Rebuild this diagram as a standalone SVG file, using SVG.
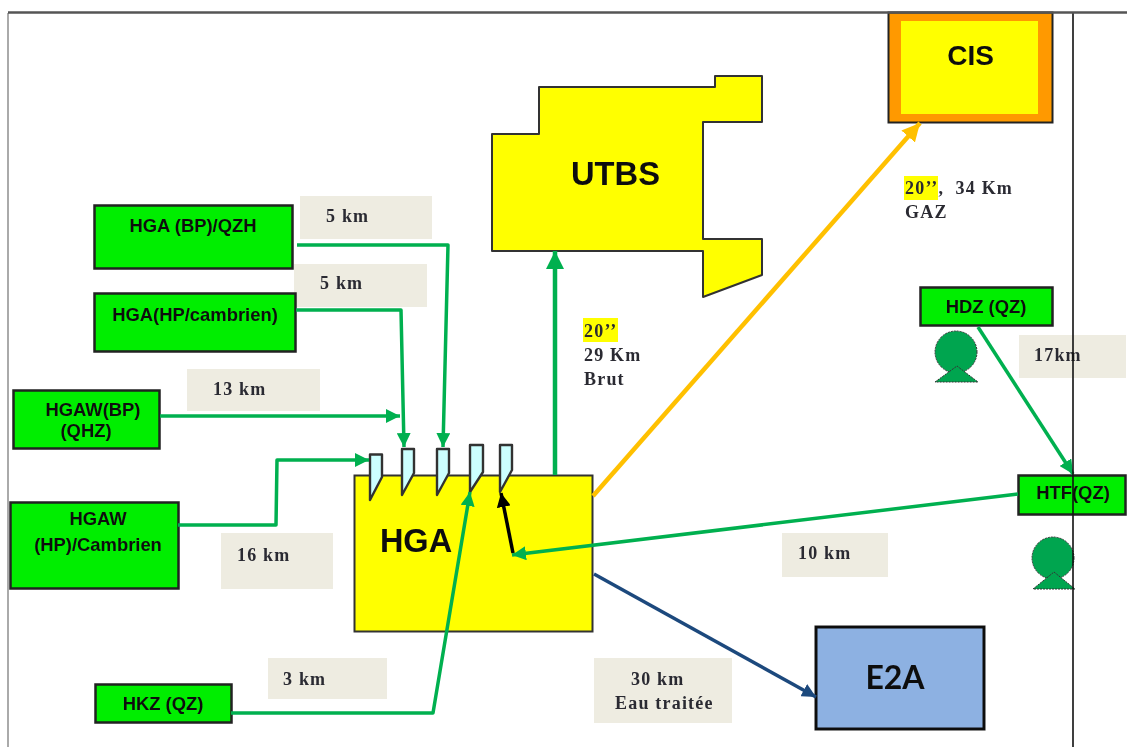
<svg xmlns="http://www.w3.org/2000/svg" width="1127" height="747" viewBox="0 0 1127 747">
<style>
.s{fill:#00ee00;stroke:#222;stroke-width:2.5}
.n{font-family:"Liberation Sans",Arial,sans-serif;font-weight:700;font-size:18.4px;fill:#111;text-anchor:middle}
.b{font-family:"Liberation Sans",Arial,sans-serif;font-weight:700;fill:#111;text-anchor:middle}
.k{font-family:"Liberation Serif","Times New Roman",serif;font-weight:700;font-size:18px;letter-spacing:1.2px;fill:#2b2b33}
.l{fill:#eeece1}
.c{fill:none;stroke-width:3.5;stroke-linejoin:round}
.g{stroke:#00b050;marker-end:url(#ag)}
.v{fill:#ccffff;stroke:#333;stroke-width:2.4;stroke-linejoin:round}
.p{fill:#00a550;stroke:#333;stroke-width:1;stroke-dasharray:2 1}
.y{fill:#ffff00}
</style>
<defs>
<marker id="ag" markerUnits="userSpaceOnUse" markerWidth="16" markerHeight="14" refX="14" refY="7" orient="auto"><path d="M0 0L14 7L0 14z" fill="#00b050"/></marker>
<marker id="agb" markerUnits="userSpaceOnUse" markerWidth="20" markerHeight="20" refX="18" refY="10" orient="auto"><path d="M0 1L18 10L0 19z" fill="#00b050"/></marker>
<marker id="ao" markerUnits="userSpaceOnUse" markerWidth="20" markerHeight="20" refX="18" refY="10" orient="auto"><path d="M0 1L18 10L0 19z" fill="#ffc000"/></marker>
<marker id="ab" markerUnits="userSpaceOnUse" markerWidth="16" markerHeight="14" refX="14" refY="7" orient="auto"><path d="M0 0L14 7L0 14z" fill="#1f497d"/></marker>
<marker id="ak" markerUnits="userSpaceOnUse" markerWidth="16" markerHeight="14" refX="14" refY="7" orient="auto"><path d="M0 0L14 7L0 14z" fill="#000"/></marker>
<filter id="soft" x="0" y="0" width="100%" height="100%" filterUnits="userSpaceOnUse"><feGaussianBlur stdDeviation="0.45"/></filter>
</defs>
<rect width="1127" height="747" fill="#fff"/>
<g filter="url(#soft)">
<g id="frame">
<path d="M8 13V747" stroke="#aaa" stroke-width="2" fill="none"/>
</g>
<g id="labels-bg">
<rect class="l" x="300" y="196" width="132" height="43"/>
<rect class="l" x="294" y="264" width="133" height="43"/>
<rect class="l" x="187" y="369" width="133" height="42"/>
<rect class="l" x="221" y="533" width="112" height="56"/>
<rect class="l" x="268" y="658" width="119" height="41"/>
<rect class="l" x="594" y="658" width="138" height="65"/>
<rect class="l" x="782" y="533" width="106" height="44"/>
<rect class="l" x="1019" y="335" width="107" height="43"/>
</g>
<g id="node-hga-bp"><rect class="s" x="94.500" y="205.500" width="198" height="63"/><text class="n" x="193" y="232">HGA (BP)/QZH</text></g>
<g id="node-hga-hp"><rect class="s" x="94.500" y="293.500" width="201" height="58"/><text class="n" x="195" y="321">HGA(HP/cambrien)</text></g>
<g id="node-hgaw-bp"><rect class="s" x="13.500" y="390.500" width="146" height="58"/><text class="n" x="93" y="416">HGAW(BP)</text><text class="n" x="86" y="437">(QHZ)</text></g>
<g id="node-hgaw-hp"><rect class="s" x="10.500" y="502.500" width="168" height="86"/><text class="n" x="98" y="525">HGAW</text><text class="n" x="98" y="551">(HP)/Cambrien</text></g>
<g id="node-hkz"><rect class="s" x="95.500" y="684.500" width="136" height="38"/><text class="n" x="163" y="710">HKZ (QZ)</text></g>
<g id="node-hga"><rect x="354.500" y="475.500" width="238" height="156" fill="#ffff00" stroke="#333" stroke-width="2"/><text class="b" x="416" y="552" font-size="32.500">HGA</text></g>
<g id="node-utbs"><path d="M492 134H539V87H715V76H762V122H703V239H762V275L703 297V251H492Z" fill="#ffff00" stroke="#333" stroke-width="2" stroke-linejoin="round"/><text class="b" x="615.500" y="185" font-size="32.700">UTBS</text></g>
<g id="node-cis"><rect x="888.500" y="12.500" width="164" height="110" fill="#ff9900" stroke="#222" stroke-width="2"/><rect x="901" y="21" width="137" height="93" fill="#ffff00"/><text class="b" x="970.500" y="65" font-size="28px">CIS</text></g>
<g id="node-hdz"><rect class="s" x="920.500" y="287.500" width="132" height="38"/><text class="n" x="986" y="313">HDZ (QZ)</text></g>
<g id="node-htf"><rect class="s" x="1018.500" y="475.500" width="107" height="39"/><text class="n" x="1073" y="499">HTF(QZ)</text></g>
<g id="node-e2a"><rect x="816" y="627" width="168" height="102" fill="#8db1e2" stroke="#111" stroke-width="3"/><text x="895" y="689" font-family="Lato,'Open Sans',sans-serif" font-weight="700" font-size="32px" fill="#111" text-anchor="middle">E2A</text></g>
<g id="person-hdz"><circle class="p" cx="956" cy="352" r="21"/><path class="p" d="M935 382L957 366L978 382Z"/></g>
<g id="person-htf"><circle class="p" cx="1053" cy="558" r="21"/><path class="p" d="M1033 589L1054 572L1075 589Z"/></g>
<g id="valves">
<path class="v" d="M370 454.500H382V477L370 500Z"/>
<path class="v" d="M402 449H414V473L402 495Z"/>
<path class="v" d="M437 449H449V473L437 495Z"/>
<path class="v" d="M470 445H483V472L470 492Z"/>
<path class="v" d="M500 445H512V470L500 492Z"/>
</g>
<g id="connectors">
<path class="c g" d="M297 245H448L443 447"/>
<path class="c g" d="M296 310H401L404 447"/>
<path class="c g" d="M160 416H400"/>
<path class="c g" d="M178 525H276L277 460H369"/>
<path class="c g" d="M231 713H433L470 492"/>
<path class="c" stroke="#00b050" d="M555 475V251" marker-end="url(#agb)" style="stroke-width:4.500px"/>
<path class="c" stroke="#ffc000" d="M593 496L920 123" marker-end="url(#ao)" style="stroke-width:4.500px"/>
<path class="c g" d="M1018 494L512 555"/>
<path class="c" stroke="#000" d="M513 553L501 493" marker-end="url(#ak)"/>
<path class="c g" d="M978 327L1073 474"/>
<path class="c" stroke="#1f497d" d="M594 574L816 697" marker-end="url(#ab)"/>
</g>
<g id="label-text">
<text class="k" x="326" y="222">5 km</text>
<text class="k" x="320" y="289">5 km</text>
<text class="k" x="213" y="395">13 km</text>
<text class="k" x="237" y="561">16 km</text>
<text class="k" x="283" y="685">3 km</text>
<text class="k" x="631" y="685">30 km</text>
<text class="k" x="615" y="709">Eau traitée</text>
<text class="k" x="798" y="559">10 km</text>
<text class="k" x="1034" y="361">17km</text>
<rect class="y" x="583" y="318" width="35" height="24"/>
<text class="k" x="584" y="337">20’’</text>
<text class="k" x="584" y="361">29 Km</text>
<text class="k" x="584" y="385">Brut</text>
<rect class="y" x="904" y="176" width="34" height="24"/>
<text class="k" x="905" y="194">20’’,&#160;&#160;34 Km</text>
<text class="k" x="905" y="218">GAZ</text>
</g>
<path id="rule-v" d="M1073 12V747" stroke="#111" stroke-width="1.600" fill="none"/>
<path id="rule-h" d="M8 12.500H1127" stroke="#555" stroke-width="2.500" fill="none"/>
</g>
</svg>
